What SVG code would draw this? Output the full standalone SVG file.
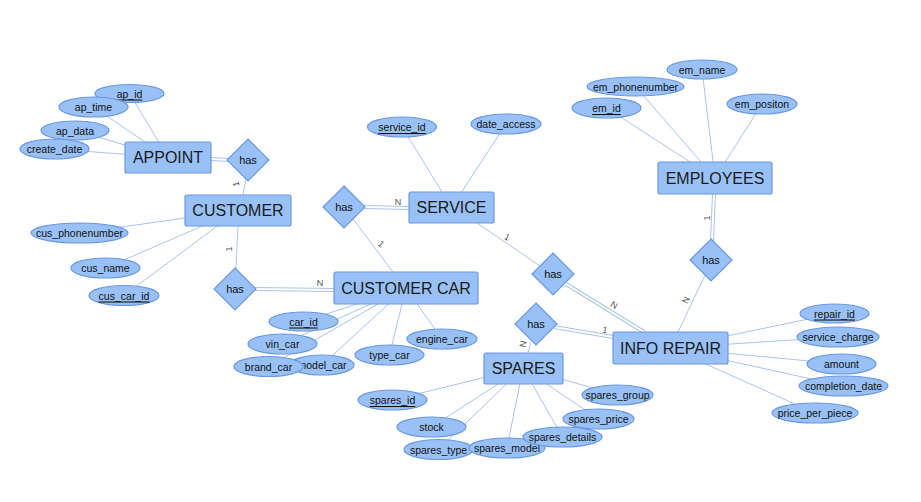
<svg xmlns="http://www.w3.org/2000/svg" width="921" height="502" viewBox="0 0 921 502">
<style>
.ent{fill:#99C1F7;stroke:#6A98DF;stroke-width:1.2}
.att{fill:#99C1F7;stroke:#6A98DF;stroke-width:1.2}
.rel{fill:#99C1F7;stroke:#6A98DF;stroke-width:1.2}
.et{font-family:"Liberation Sans",Arial,sans-serif;font-size:16px;fill:#1a1a1a;text-anchor:middle;dominant-baseline:central}
.at{font-family:"Liberation Sans",Arial,sans-serif;font-size:10.5px;fill:#111;text-anchor:middle;dominant-baseline:central}
.key{text-decoration:underline}
.rt{font-family:"Liberation Sans",Arial,sans-serif;font-size:11px;fill:#111;text-anchor:middle;dominant-baseline:central}
.ln{stroke:#A9C4EB;stroke-width:1;fill:none}
.dbo{stroke:#A9C4EB;stroke-width:4;fill:none}
.dbi{stroke:#ffffff;stroke-width:2;fill:none}
.cd{font-family:"Liberation Sans",Arial,sans-serif;font-size:9px;fill:#555;text-anchor:middle;dominant-baseline:central}
</style>
<rect width="921" height="502" fill="#ffffff"/>
<g id="connectors">
<!-- APPOINT attributes -->
<line class="ln" x1="129.5" y1="93.5" x2="168" y2="157.5"/>
<line class="ln" x1="93.5" y1="107" x2="168" y2="157.5"/>
<line class="ln" x1="75" y1="130.5" x2="168" y2="157.5"/>
<line class="ln" x1="54.5" y1="149" x2="168" y2="157.5"/>
<!-- CUSTOMER attributes -->
<line class="ln" x1="79.5" y1="233" x2="238" y2="210.5"/>
<line class="ln" x1="105.5" y1="268" x2="238" y2="210.5"/>
<line class="ln" x1="124" y1="295.5" x2="238" y2="210.5"/>
<!-- CUSTOMER CAR attributes -->
<line class="ln" x1="303.5" y1="321.5" x2="406" y2="288"/>
<line class="ln" x1="282.5" y1="344" x2="406" y2="288"/>
<line class="ln" x1="268.5" y1="366.5" x2="406" y2="288"/>
<line class="ln" x1="322" y1="365" x2="406" y2="288"/>
<line class="ln" x1="389.5" y1="355" x2="406" y2="288"/>
<line class="ln" x1="442" y1="339" x2="406" y2="288"/>
<!-- SERVICE attributes -->
<line class="ln" x1="402" y1="127" x2="451.5" y2="207.5"/>
<line class="ln" x1="506" y1="124" x2="451.5" y2="207.5"/>
<!-- EMPLOYEES attributes -->
<line class="ln" x1="606.5" y1="108" x2="715" y2="178"/>
<line class="ln" x1="635.5" y1="86.5" x2="715" y2="178"/>
<line class="ln" x1="702" y1="69.5" x2="715" y2="178"/>
<line class="ln" x1="762" y1="104" x2="715" y2="178"/>
<!-- INFO REPAIR attributes -->
<line class="ln" x1="834.5" y1="313.5" x2="670" y2="348"/>
<line class="ln" x1="838" y1="337" x2="670" y2="348"/>
<line class="ln" x1="841.5" y1="364" x2="670" y2="348"/>
<line class="ln" x1="843.5" y1="386" x2="670" y2="348"/>
<line class="ln" x1="815" y1="413" x2="670" y2="348"/>
<!-- SPARES attributes -->
<line class="ln" x1="392.5" y1="400" x2="523" y2="368"/>
<line class="ln" x1="431.5" y1="427" x2="523" y2="368"/>
<line class="ln" x1="438.5" y1="449.5" x2="523" y2="368"/>
<line class="ln" x1="507" y1="448" x2="523" y2="368"/>
<line class="ln" x1="562.5" y1="437" x2="523" y2="368"/>
<line class="ln" x1="598.5" y1="419" x2="523" y2="368"/>
<line class="ln" x1="617.5" y1="395" x2="523" y2="368"/>
<!-- relationships -->
<line class="dbo" x1="211" y1="159" x2="230" y2="160"/>
<line class="dbi" x1="211" y1="159" x2="230" y2="160"/>
<line class="ln" x1="246" y1="178" x2="243" y2="195"/>
<line class="ln" x1="238" y1="226" x2="236" y2="270"/>
<line class="dbo" x1="254" y1="289" x2="334" y2="290"/>
<line class="dbi" x1="254" y1="289" x2="334" y2="290"/>
<line class="dbo" x1="364" y1="207" x2="409" y2="208"/>
<line class="dbi" x1="364" y1="207" x2="409" y2="208"/>
<line class="ln" x1="353" y1="219" x2="393" y2="272"/>
<line class="ln" x1="477" y1="223" x2="540" y2="266"/>
<line class="dbo" x1="566" y1="284" x2="644" y2="332"/>
<line class="dbi" x1="566" y1="284" x2="644" y2="332"/>
<line class="dbo" x1="714" y1="194" x2="712" y2="241"/>
<line class="dbi" x1="714" y1="194" x2="712" y2="241"/>
<line class="ln" x1="705" y1="275" x2="678" y2="332"/>
<line class="dbo" x1="554" y1="327" x2="613" y2="337"/>
<line class="dbi" x1="554" y1="327" x2="613" y2="337"/>
<line class="ln" x1="531" y1="342" x2="528" y2="353"/>
<!-- cardinalities -->
<text class="cd" x="236" y="184" transform="rotate(-100 236 184)">1</text>
<text class="cd" x="229" y="249" transform="rotate(-90 229 249)">1</text>
<text class="cd" x="320" y="283">N</text>
<text class="cd" x="398" y="202">N</text>
<text class="cd" x="381" y="244" transform="rotate(40 381 244)">1</text>
<text class="cd" x="507" y="237" transform="rotate(25 507 237)">1</text>
<text class="cd" x="614" y="305" transform="rotate(30 614 305)">N</text>
<text class="cd" x="707" y="218" transform="rotate(-90 707 218)">1</text>
<text class="cd" x="686" y="300" transform="rotate(-65 686 300)">N</text>
<text class="cd" x="605" y="330" transform="rotate(10 605 330)">1</text>
<text class="cd" x="523" y="344" transform="rotate(-80 523 344)">N</text>
</g>
<g id="appoint"><rect class="ent" x="125" y="142" width="86" height="31" rx="2"/><text class="et" x="168" y="157.5">APPOINT</text></g>
<g id="customer"><rect class="ent" x="185" y="195" width="106" height="31" rx="2"/><text class="et" x="238" y="210.5">CUSTOMER</text></g>
<g id="customer_car"><rect class="ent" x="334" y="272" width="144" height="32" rx="2"/><text class="et" x="406" y="288">CUSTOMER CAR</text></g>
<g id="service"><rect class="ent" x="409" y="192" width="85" height="31" rx="2"/><text class="et" x="451.5" y="207.5">SERVICE</text></g>
<g id="employees"><rect class="ent" x="658" y="162" width="114" height="32" rx="2"/><text class="et" x="715" y="178">EMPLOYEES</text></g>
<g id="info_repair"><rect class="ent" x="613" y="332" width="115" height="32" rx="2"/><text class="et" x="670.5" y="348">INFO REPAIR</text></g>
<g id="spares"><rect class="ent" x="484" y="353" width="79" height="31" rx="2"/><text class="et" x="523.5" y="368.5">SPARES</text></g>
<g id="has_appoint"><polygon class="rel" points="248,139 269,160 248,181 227,160"/><text class="rt" x="248" y="160">has</text></g>
<g id="has_customer_car"><polygon class="rel" points="235,268 256,289 235,310 214,289"/><text class="rt" x="235" y="289">has</text></g>
<g id="has_service"><polygon class="rel" points="344,186 365,207 344,228 323,207"/><text class="rt" x="344" y="207">has</text></g>
<g id="has_service_repair"><polygon class="rel" points="553,253 574,274 553,295 532,274"/><text class="rt" x="553" y="274">has</text></g>
<g id="has_employees"><polygon class="rel" points="711,239 732,260 711,281 690,260"/><text class="rt" x="711" y="260">has</text></g>
<g id="has_spares"><polygon class="rel" points="536,303 557,324 536,345 515,324"/><text class="rt" x="536" y="324">has</text></g>
<g id="ap_id"><ellipse class="att" cx="129.5" cy="93.5" rx="34.5" ry="9"/><text class="at key" x="129.5" y="93.5">ap_id</text></g>
<g id="ap_time"><ellipse class="att" cx="93.5" cy="107" rx="34.5" ry="10"/><text class="at" x="93.5" y="107">ap_time</text></g>
<g id="ap_data"><ellipse class="att" cx="75" cy="130.5" rx="34" ry="9.5"/><text class="at" x="75" y="130.5">ap_data</text></g>
<g id="create_date"><ellipse class="att" cx="54.5" cy="149" rx="34.5" ry="10"/><text class="at" x="54.5" y="149">create_date</text></g>
<g id="cus_phonenumber"><ellipse class="att" cx="79.5" cy="233" rx="48.5" ry="10"/><text class="at" x="79.5" y="233">cus_phonenumber</text></g>
<g id="cus_name"><ellipse class="att" cx="105.5" cy="268" rx="34.5" ry="10"/><text class="at" x="105.5" y="268">cus_name</text></g>
<g id="cus_car_id"><ellipse class="att" cx="124" cy="295.5" rx="35" ry="10"/><text class="at key" x="124" y="295.5">cus_car_id</text></g>
<g id="car_id"><ellipse class="att" cx="303.5" cy="321.5" rx="34.5" ry="9.5"/><text class="at key" x="303.5" y="321.5">car_id</text></g>
<g id="vin_car"><ellipse class="att" cx="282.5" cy="344" rx="34.5" ry="10"/><text class="at" x="282.5" y="344">vin_car</text></g>
<g id="model_car"><ellipse class="att" cx="322" cy="365" rx="32" ry="10"/><text class="at" x="322" y="365">model_car</text></g>
<g id="brand_car"><ellipse class="att" cx="268.5" cy="366.5" rx="34.5" ry="10"/><text class="at" x="268.5" y="366.5">brand_car</text></g>
<g id="type_car"><ellipse class="att" cx="389.5" cy="355" rx="34.5" ry="10"/><text class="at" x="389.5" y="355">type_car</text></g>
<g id="engine_car"><ellipse class="att" cx="442" cy="339" rx="35" ry="10"/><text class="at" x="442" y="339">engine_car</text></g>
<g id="service_id"><ellipse class="att" cx="402" cy="127" rx="34.5" ry="10"/><text class="at key" x="402" y="127">service_id</text></g>
<g id="date_access"><ellipse class="att" cx="506" cy="124" rx="35" ry="10"/><text class="at" x="506" y="124">date_access</text></g>
<g id="em_name"><ellipse class="att" cx="702" cy="69.5" rx="35" ry="9.5"/><text class="at" x="702" y="69.5">em_name</text></g>
<g id="em_phonenumber"><ellipse class="att" cx="635.5" cy="86.5" rx="48.5" ry="9.5"/><text class="at" x="635.5" y="86.5">em_phonenumber</text></g>
<g id="em_id"><ellipse class="att" cx="606.5" cy="108" rx="34.5" ry="10"/><text class="at key" x="606.5" y="108">em_id</text></g>
<g id="em_positon"><ellipse class="att" cx="762" cy="104" rx="35" ry="10"/><text class="at" x="762" y="104">em_positon</text></g>
<g id="repair_id"><ellipse class="att" cx="834.5" cy="313.5" rx="34.5" ry="9.5"/><text class="at key" x="834.5" y="313.5">repair_id</text></g>
<g id="service_charge"><ellipse class="att" cx="838" cy="337" rx="41" ry="10"/><text class="at" x="838" y="337">service_charge</text></g>
<g id="amount"><ellipse class="att" cx="841.5" cy="364" rx="34.5" ry="10"/><text class="at" x="841.5" y="364">amount</text></g>
<g id="completion_date"><ellipse class="att" cx="843.5" cy="386" rx="44.5" ry="10"/><text class="at" x="843.5" y="386">completion_date</text></g>
<g id="price_per_piece"><ellipse class="att" cx="815" cy="413" rx="43" ry="10"/><text class="at" x="815" y="413">price_per_piece</text></g>
<g id="spares_id"><ellipse class="att" cx="392.5" cy="400" rx="34.5" ry="10"/><text class="at key" x="392.5" y="400">spares_id</text></g>
<g id="stock"><ellipse class="att" cx="431.5" cy="427" rx="34.5" ry="10"/><text class="at" x="431.5" y="427">stock</text></g>
<g id="spares_type"><ellipse class="att" cx="438.5" cy="449.5" rx="34.5" ry="10"/><text class="at" x="438.5" y="449.5">spares_type</text></g>
<g id="spares_model"><ellipse class="att" cx="507" cy="448" rx="38" ry="10"/><text class="at" x="507" y="448">spares_model</text></g>
<g id="spares_details"><ellipse class="att" cx="562.5" cy="437" rx="39.5" ry="10"/><text class="at" x="562.5" y="437">spares_details</text></g>
<g id="spares_price"><ellipse class="att" cx="598.5" cy="419" rx="35.5" ry="10"/><text class="at" x="598.5" y="419">spares_price</text></g>
<g id="spares_group"><ellipse class="att" cx="617.5" cy="395" rx="35.5" ry="10"/><text class="at" x="617.5" y="395">spares_group</text></g>
</svg>
